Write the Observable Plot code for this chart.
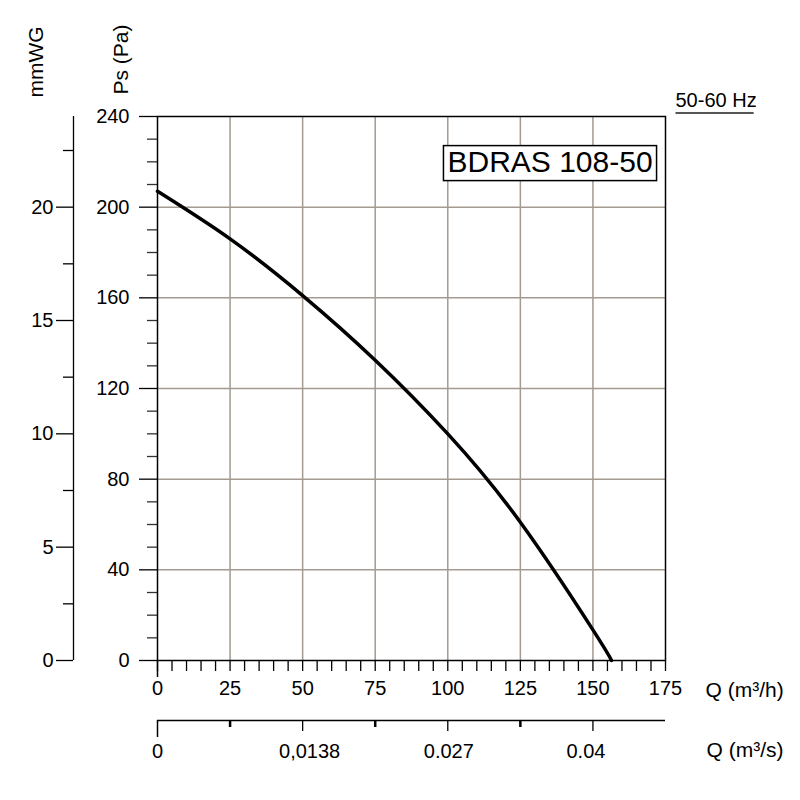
<!DOCTYPE html>
<html><head><meta charset="utf-8">
<script src="https://cdn.jsdelivr.net/npm/d3@7"></script>
<script src="https://cdn.jsdelivr.net/npm/@observablehq/plot@0.6"></script>
<style>
body{margin:0;background:#fff}
#chart{width:800px;height:800px}
</style>
</head><body><div id="chart"></div>
<script>
// ---- data ----
const flowQh = [0, 25, 50, 75, 100, 125, 150, 156.4];
const pressurePa = [207, 186, 161, 132.5, 100, 61, 13.5, 0];

const qMajorTicks = [0, 25, 50, 75, 100, 125, 150, 175];
const qMinorTicks = [5, 10, 15, 20, 30, 35, 40, 45, 55, 60, 65, 70, 80, 85, 90, 95, 105, 110, 115, 120, 130, 135, 140, 145, 155, 160, 165, 170];
const qGridTicks = [25, 50, 75, 100, 125, 150];

const paMajorTicks = [0, 40, 80, 120, 160, 200, 240];
const paMinorTicks = [10, 20, 30, 50, 60, 70, 90, 100, 110, 130, 140, 150, 170, 180, 190, 210, 220, 230];
const paGridTicks = [40, 80, 120, 160, 200];

const mmwgMajorTicks = [0, 5, 10, 15, 20];
const mmwgMinorTicks = [2.5, 7.5, 12.5, 17.5, 22.5];
const paPerMmwg = 10;

const qsTickPositionsQh = [0, 50, 100, 150];
const qsTickLabels = ["0", "0,0138", "0.027", "0.04"];
const qsLabelShift = [0, 7, 1, -7];
const qsMinorQh = [25, 75, 125];

const modelName = "BDRAS 108-50";
const freqLabel = "50-60 Hz";
const yTitle = "Ps (Pa)";
const y2Title = "mmWG";
const xTitle = "Q (m³/h)";
const x2Title = "Q (m³/s)";

// ---- tables built from arrays ----
const curve = flowQh.map((q, i) => ({q, pa: pressurePa[i]}));
const qsLabels = qsTickPositionsQh.map((q, i) => ({q, label: qsTickLabels[i], shift: qsLabelShift[i]}));

const gridColor = "#a39a90";
const font = "'Liberation Sans', Arial, sans-serif";

const chart = Plot.plot({
  width: 800,
  height: 800,
  marginLeft: 157,
  marginRight: 135,
  marginTop: 116,
  marginBottom: 140,
  style: {fontFamily: font, fontSize: "20px", color: "black", background: "white", overflow: "visible"},
  x: {domain: [qMajorTicks[0], qMajorTicks[qMajorTicks.length - 1]]},
  y: {domain: [paMajorTicks[0], paMajorTicks[paMajorTicks.length - 1]]},
  marks: [
    Plot.gridX({ticks: qGridTicks, stroke: gridColor, strokeOpacity: 1, strokeWidth: 1.5}),
    Plot.gridY({ticks: paGridTicks, stroke: gridColor, strokeOpacity: 1, strokeWidth: 1.5}),
    // main Pa axis
    Plot.axisY({ticks: paMajorTicks, tickSize: 18, tickPadding: 10, label: null, strokeWidth: 1.3, fontSize: 20}),
    Plot.axisY({ticks: paMinorTicks, tickSize: 10, tickFormat: () => "", label: null, strokeWidth: 1.3, stroke: "#333"}),
    // main Q axis
    Plot.axisX({ticks: qMajorTicks, tickSize: 11, tickPadding: 9, label: null, strokeWidth: 1.3, fontSize: 20}),
    Plot.axisX({ticks: qMinorTicks, tickSize: 11, tickFormat: () => "", label: null, strokeWidth: 1.3}),
    Plot.axisX({ticks: [qMajorTicks[0]], tickSize: 17, tickFormat: () => "", label: null, strokeWidth: 1.5}),
    // mmWG axis (offset to the left)
    Plot.ruleX([qMajorTicks[0]], {y1: () => paMajorTicks[0], y2: () => paMajorTicks[paMajorTicks.length - 1], dx: -84, strokeWidth: 1.3}),
    Plot.axisY({ticks: mmwgMajorTicks.map(v => v * paPerMmwg), tickFormat: d => d / paPerMmwg, tickSize: 17, tickPadding: 3, dx: -84, label: null, strokeWidth: 1.3, fontSize: 20}),
    Plot.axisY({ticks: mmwgMinorTicks.map(v => v * paPerMmwg), tickFormat: () => "", tickSize: 10, dx: -84, label: null, strokeWidth: 1.3}),
    // Q (m3/s) secondary axis below
    Plot.ruleY([paMajorTicks[0]], {x1: () => qMajorTicks[0], x2: () => qMajorTicks[qMajorTicks.length - 1], dy: 60, strokeWidth: 1.3}),
    Plot.axisX({ticks: qsTickPositionsQh.slice(1), tickSize: 11, tickFormat: () => "", dy: 60, label: null, strokeWidth: 1.3}),
    Plot.axisX({ticks: [qsTickPositionsQh[0]], tickSize: 17, tickFormat: () => "", dy: 60, label: null, strokeWidth: 1.5}),
    Plot.axisX({ticks: qsMinorQh, tickSize: 7, tickFormat: () => "", dy: 60, label: null, strokeWidth: 2.5}),
    Plot.text(qsLabels, {x: d => d.q + d.shift / 2.903, text: "label", frameAnchor: "bottom", lineAnchor: "middle", dy: 91, fontSize: 20}),
    // frame and curve
    Plot.frame({stroke: "black", strokeWidth: 1.5}),
    Plot.line(curve, {x: "q", y: "pa", curve: "natural", stroke: "black", strokeWidth: 3.5}),
    // titles
    Plot.text([xTitle], {frameAnchor: "bottom-right", textAnchor: "start", lineAnchor: "middle", dx: 40, dy: 30, fontSize: 21}),
    Plot.text([x2Title], {frameAnchor: "bottom-right", textAnchor: "start", lineAnchor: "middle", dx: 41, dy: 90, fontSize: 21}),
    Plot.text([yTitle], {frameAnchor: "top-left", rotate: -90, textAnchor: "start", lineAnchor: "middle", dx: -36, dy: -22, fontSize: 21}),
    Plot.text([y2Title], {frameAnchor: "top-left", rotate: -90, textAnchor: "start", lineAnchor: "middle", dx: -121, dy: -19, fontSize: 21}),
    Plot.text([freqLabel], {frameAnchor: "top-right", textAnchor: "start", lineAnchor: "middle", dx: 10, dy: -16, fontSize: 20}),
    Plot.text([modelName], {frameAnchor: "top-right", textAnchor: "middle", lineAnchor: "middle", dx: -115.5, dy: 45.5, fontSize: 30})
  ]
});

document.getElementById("chart").appendChild(chart);

// decorations that need measured text: box behind the model name, underline under the frequency
{
  const texts = Array.from(chart.querySelectorAll("text"));
  const svgNS = "http://www.w3.org/2000/svg";
  const t = texts.find(e => e.textContent === modelName);
  if (t) {
    const bb = t.getBBox();
    const r = document.createElementNS(svgNS, "rect");
    r.setAttribute("x", bb.x - 4);
    r.setAttribute("y", bb.y + 1);
    r.setAttribute("width", bb.width + 8);
    r.setAttribute("height", bb.height + 2);
    r.setAttribute("fill", "white");
    r.setAttribute("stroke", "black");
    r.setAttribute("stroke-width", "1.5");
    if (t.getAttribute("transform")) r.setAttribute("transform", t.getAttribute("transform"));
    t.parentNode.insertBefore(r, t);
  }
  const f = texts.find(e => e.textContent === freqLabel);
  if (f) {
    const bb = f.getBBox();
    const l = document.createElementNS(svgNS, "line");
    l.setAttribute("x1", bb.x);
    l.setAttribute("x2", bb.x + bb.width - 3);
    l.setAttribute("y1", bb.y + bb.height + 2);
    l.setAttribute("y2", bb.y + bb.height + 2);
    l.setAttribute("stroke", "#555");
    l.setAttribute("stroke-width", "2");
    if (f.getAttribute("transform")) l.setAttribute("transform", f.getAttribute("transform"));
    f.parentNode.insertBefore(l, f);
  }
}
</script>
</body></html>
